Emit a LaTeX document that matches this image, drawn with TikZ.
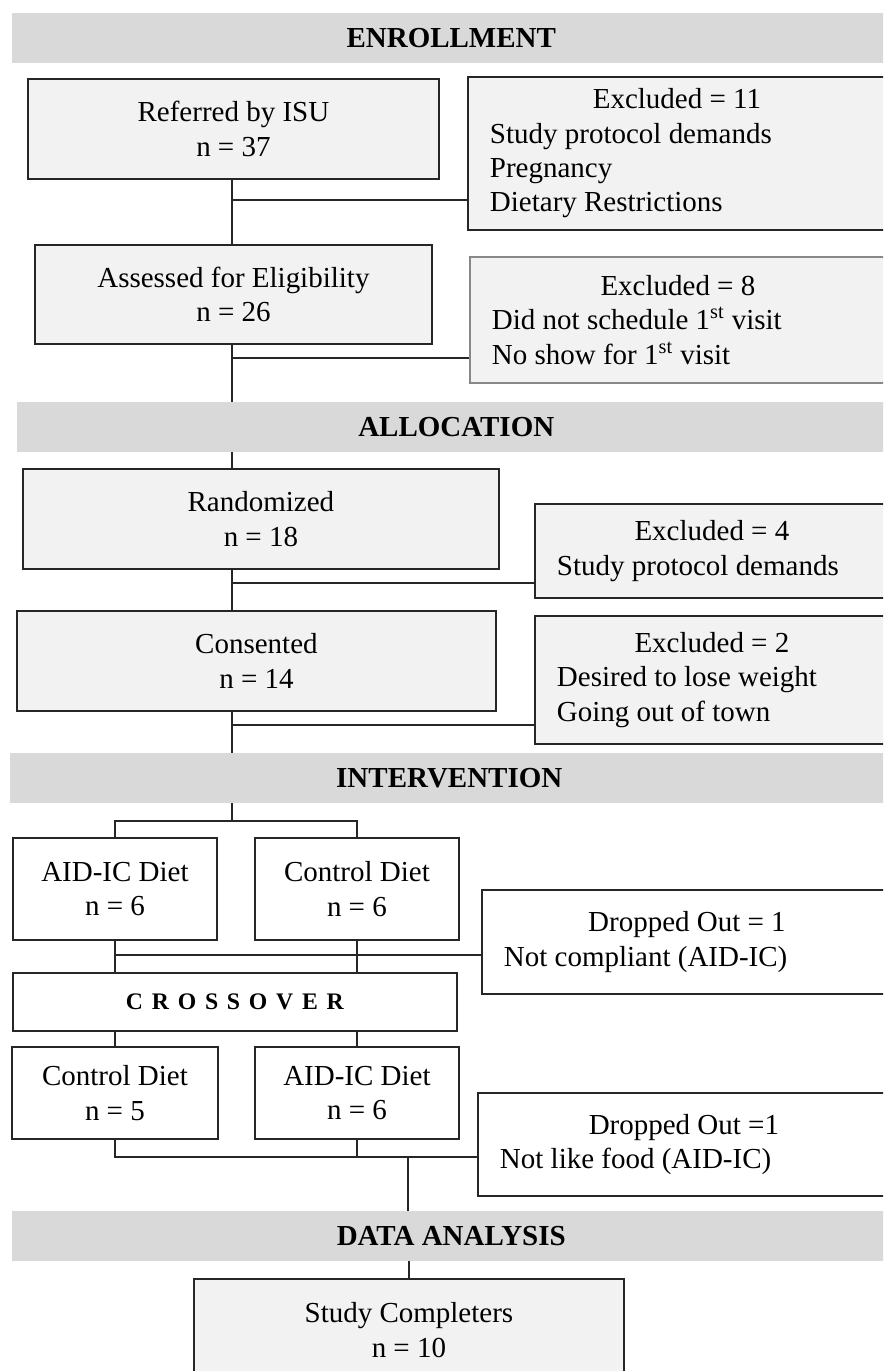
\documentclass[tikz,border=0pt]{standalone}
\usepackage{fontspec}
\setmainfont{Liberation Serif}
\usetikzlibrary{positioning, calc}

\definecolor{barfill}{HTML}{D9D9D9}
\definecolor{boxfill}{HTML}{F2F2F2}
\definecolor{edgecol}{HTML}{262626}

\newcommand{\lgap}{\hspace{5pt}}

\begin{document}
\begin{tikzpicture}[
        x=0.02cm, y=-0.02cm,
        font=\fontsize{16.5}{19.5}\selectfont,
        phase/.style={rectangle, fill=barfill, anchor=north west, minimum width=17.56cm, minimum height=0.99cm, inner sep=0pt, font=\fontsize{16.5}{19.5}\selectfont\bfseries},
        stage/.style={rectangle, draw=edgecol, line width=1.1pt, fill=boxfill, anchor=north west, minimum height=2cm, align=center, inner sep=0pt},
        excl/.style={rectangle, draw=edgecol, line width=1.1pt, fill=boxfill, anchor=north west, align=left, inner xsep=0.44cm, inner ysep=0pt},
        arm/.style={rectangle, draw=edgecol, line width=1.1pt, fill=white, anchor=north west, minimum width=4.08cm, align=center, inner sep=0pt},
        link/.style={draw=edgecol, line width=1.1pt}
    ]
        \useasboundingbox (0,0) rectangle (883,1371);
        \clip (0,0) rectangle (883,1371);

        % Enrollment
        \node[phase] (enroll) at (12,13) {ENROLLMENT};
        \node[stage, minimum width=8.22cm] (referred) at (27,78) {Referred by ISU\\n = 37};
        \node[excl, minimum height=3.06cm] (exclA) at (467,76)
            {\makebox[7.48cm]{Excluded = 11}\\Study protocol demands\\Pregnancy\\Dietary Restrictions};
        \node[stage, minimum width=7.94cm, minimum height=1.98cm] (assessed) at (34,244) {Assessed for Eligibility\\n = 26};
        \node[excl, draw=edgecol!55, minimum height=2.52cm] (exclB) at (469,256)
            {\makebox[7.44cm]{Excluded = 8}\\Did not schedule 1\textsuperscript{st} visit\\No show for 1\textsuperscript{st} visit};

        \coordinate (trunk) at (232,0);
        \coordinate (cutA) at (232,200);
        \coordinate (cutB) at (232,358);
        \draw[link] (trunk |- referred.south) -- (trunk |- assessed.north);
        \draw[link] (cutA) -- (cutA -| exclA.west);
        \draw[link] (trunk |- assessed.south) -- (cutB) -- (cutB -| exclB.west);

        % Allocation
        \node[phase] (alloc) at (17,402) {ALLOCATION};
        \draw[link] (trunk |- assessed.south) -- (trunk |- alloc.north);
        \node[stage, minimum width=9.52cm] (random) at (22,468) {Randomized\\n = 18};
        \node[excl, minimum height=1.88cm] (exclC) at (534,503)
            {\makebox[6.2cm]{Excluded = 4}\\Study protocol demands};
        \node[stage, minimum width=9.58cm] (consent) at (16,610) {Consented\\n = 14};
        \node[excl, minimum height=2.56cm] (exclD) at (534,615)
            {\makebox[6.2cm]{Excluded = 2}\\Desired to lose weight\\Going out of town};

        \coordinate (cutC) at (232,583);
        \coordinate (cutD) at (232,725);
        \draw[link] (trunk |- alloc.south) -- (trunk |- random.north);
        \draw[link] (trunk |- random.south) -- (trunk |- consent.north);
        \draw[link] (cutC) -- (cutC -| exclC.west);
        \draw[link] (cutD) -- (cutD -| exclD.west);

        % Intervention
        \node[phase] (interv) at (10,753) {INTERVENTION};
        \draw[link] (trunk |- consent.south) -- (trunk |- interv.north);

        \node[arm, minimum height=2.04cm] (aidicA) at (12,837) {AID-IC Diet\\n = 6};
        \node[arm, minimum height=2.04cm] (controlA) at (254,837) {Control Diet\\n = 6};
        \node[excl, fill=white, minimum height=2.08cm] (dropA) at (481,889)
            {\makebox[7.32cm]{Dropped Out = 1}\\Not compliant (AID-IC)};

        \coordinate (split) at (232,821);
        \draw[link] (trunk |- interv.south) -- (split);
        \draw[link] (aidicA.north) |- (split) -| (controlA.north);

        \node[arm, minimum width=8.88cm, minimum height=1.16cm, font=\fontsize{13.5}{16}\selectfont\bfseries] (cross) at (12,972)
            {C\lgap R\lgap O\lgap S\lgap S\lgap O\lgap V\lgap E\lgap R};

        \coordinate (cutE) at (114,955);
        \draw[link] (aidicA.south) -- (aidicA.south |- cross.north);
        \draw[link] (controlA.south) -- (controlA.south |- cross.north);
        \draw[link] (cutE) -- (cutE -| dropA.west);

        \node[arm, minimum width=4.12cm, minimum height=1.84cm] (controlB) at (11,1046) {Control Diet\\n = 5};
        \node[arm, minimum height=1.84cm] (aidicB) at (254,1046) {AID-IC Diet\\n = 6};
        \node[excl, fill=white, minimum height=2.06cm] (dropB) at (477,1092)
            {\makebox[7.36cm]{Dropped Out =1}\\Not like food (AID-IC)};

        \draw[link] (controlB.north |- cross.south) -- (controlB.north);
        \draw[link] (aidicB.north |- cross.south) -- (aidicB.north);

        \coordinate (merge) at (408,1157);
        \draw[link] (controlB.south) |- (merge) -| (aidicB.south);
        \draw[link] (merge) -- (merge -| dropB.west);

        % Data analysis
        \node[phase] (data) at (12,1211) {DATA ANALYSIS};
        \draw[link] (merge) -- (merge |- data.north);

        \node[stage, minimum width=8.6cm, minimum height=2.04cm] (complete) at (193,1278) {Study Completers\\n = 10};
        \draw[link] (complete.north |- data.south) -- (complete.north);
    \end{tikzpicture}
\end{document}
